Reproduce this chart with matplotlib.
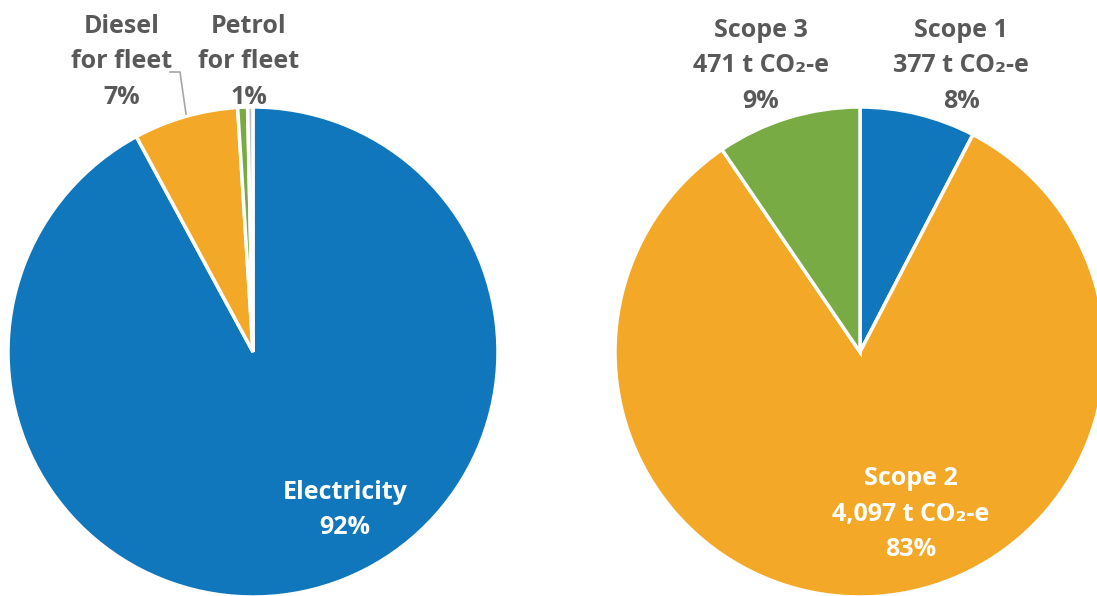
import matplotlib.pyplot as plt

# left pie: energy sources
energy_labels = ["Electricity", "Diesel\nfor fleet", "Petrol\nfor fleet", "Other"]
energy_share = [92.1, 6.9, 0.65, 0.35]
energy_colors = ["#1177BD", "#F3A927", "#78AB43", "#BFBFBF"]

# right pie: emissions by scope
scope_labels = ["Scope 1", "Scope 2", "Scope 3"]
scope_tonnes = [377, 4097, 471]
scope_pct = ["8%", "83%", "9%"]
scope_colors = ["#1177BD", "#F3A927", "#78AB43"]

W, H = 1097, 596
plt.rcParams['font.family'] = ['Open Sans', 'DejaVu Sans']
fig = plt.figure(figsize=(W / 100, H / 100), dpi=100)


def pie_axes(cx, cy, r):
    return fig.add_axes([(cx - r) / W, 1 - (cy + r) / H, 2 * r / W, 2 * r / H])


def finish(ax):
    ax.set_xlim(-1, 1)
    ax.set_ylim(-1, 1)
    ax.set_aspect("equal")
    ax.axis("off")


def px(x, y):
    return x / W, 1 - y / H


grey = "#595959"
fs = 18

ax1 = pie_axes(253, 352, 245)
wedges, _ = ax1.pie(energy_share, colors=energy_colors, startangle=90, counterclock=False,
                    radius=1, wedgeprops=dict(edgecolor="white", linewidth=2.5))
for w in wedges:
    w.set_clip_on(False)
finish(ax1)

ax2 = pie_axes(860, 352, 245)
wedges2, _ = ax2.pie(scope_tonnes, colors=scope_colors, startangle=90, counterclock=False,
                     radius=1, wedgeprops=dict(edgecolor="white", linewidth=2.5))
for w in wedges2:
    w.set_clip_on(False)
finish(ax2)

txt = dict(ha="center", va="center", fontsize=fs, fontweight="bold", linespacing=1.55)

fig.text(*px(122, 62), f"{energy_labels[1]}\n{energy_share[1]:.0f}%", color=grey, **txt)
fig.text(*px(249, 62), f"{energy_labels[2]}\n1%", color=grey, **txt)
fig.text(*px(345, 510), f"{energy_labels[0]}\n{energy_share[0]:.0f}%", color="white", **txt)

# leader line for the diesel label
lx, ly = zip(px(170, 72), px(180, 72), px(186, 114))
fig.add_artist(plt.Line2D(lx, ly, color="#A6A6A6", linewidth=1.2))

pos = {"Scope 1": (961, 66, grey), "Scope 2": (911, 514, "white"), "Scope 3": (761, 66, grey)}
for lab, t, p in zip(scope_labels, scope_tonnes, scope_pct):
    x, y, c = pos[lab]
    fig.text(*px(x, y), f"{lab}\n{t:,} t CO\u2082-e\n{p}", color=c, **txt)

fig.savefig("out.png", dpi=100)
